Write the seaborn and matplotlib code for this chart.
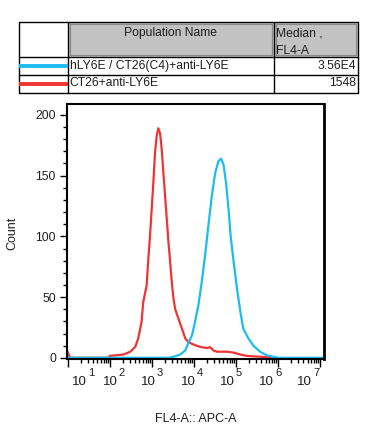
import numpy as np
import pandas as pd
import matplotlib
matplotlib.use("Agg")
import matplotlib.pyplot as plt
import seaborn as sns
from matplotlib.patches import Rectangle
from matplotlib.ticker import FixedLocator, NullFormatter

# ======================================== [ data ] ========================================
# histogram outlines (x = log10 of FL4-A intensity, y = count)
blue_log = [0.95, 3.40, 3.51, 3.67, 3.79, 3.86, 3.95, 4.02, 4.10, 4.18, 4.26, 4.34, 4.42, 4.50,
            4.58, 4.64, 4.70, 4.76, 4.82, 4.87, 4.94, 5.02, 5.10, 5.17, 5.29, 5.41, 5.57, 5.73,
            5.89, 6.00, 7.10]
blue_cnt = [0, 0, 0.8, 2.7, 6, 12, 18.5, 29.5, 43, 62, 84, 109, 133, 152,
            162, 164, 159, 144, 122, 100, 79, 57, 38, 24, 16, 10, 5, 2,
            0.8, 0, 0]

red_log = [0.976, 1.05, 1.95, 2.00, 2.32, 2.48, 2.60, 2.67, 2.75, 2.79, 2.87, 2.91, 2.95, 2.99,
           3.03, 3.07, 3.11, 3.15, 3.19, 3.23, 3.27, 3.31, 3.35, 3.39, 3.43, 3.47, 3.51, 3.55,
           3.63, 3.71, 3.79, 3.86, 3.98, 4.14, 4.30, 4.38, 4.46, 4.54, 4.78, 4.94, 5.10, 5.25,
           5.73, 5.85]
red_cnt = [6, 0, 0, 1.6, 2.7, 5, 9, 16, 29.5, 46, 59.5, 81, 100, 122,
           144, 169, 182.5, 189, 185, 171.6, 152, 133, 114, 95, 79, 62, 48.6, 40,
           32, 24, 16, 13, 11, 9, 8, 8.7, 6, 5, 5, 4.3, 2.7, 1.6,
           0.5, 0]

pop_names = ["hLY6E / CT26(C4)+anti-LY6E", "CT26+anti-LY6E"]
medians = ["3.56E4", "1548"]
pop_colors = ["#1cbcf0", "#f03434"]

y_major = [0, 50, 100, 150, 200]
x_decades = [1, 2, 3, 4, 5, 6, 7]
x_label_pos = [1.26, 2.0, 2.905, 3.857, 4.786, 5.714, 6.62]  # where FlowJo drew the "10^n" labels

# ======================================== [ plot ] ========================================
sns.set_style("ticks")
plt.rcParams['font.family'] = ['Liberation Sans', 'DejaVu Sans']
txt = '#1e1e1e'
fs = 8.7

df = pd.concat([
    pd.DataFrame({'x': 10 ** np.array(red_log), 'count': red_cnt, 'pop': pop_names[1]}),
    pd.DataFrame({'x': 10 ** np.array(blue_log), 'count': blue_cnt, 'pop': pop_names[0]}),
])

fig = plt.figure(figsize=(3.71, 4.33), dpi=100)
ax = fig.add_axes([67 / 371, 1 - 359 / 433, (324 - 67) / 371, (359 - 104) / 433])

# red first, blue on top (blue baseline covers red's zero run)
sns.lineplot(data=df, x='x', y='count', hue='pop', sort=False, estimator=None,
             palette={pop_names[0]: pop_colors[0], pop_names[1]: pop_colors[1]},
             hue_order=[pop_names[1], pop_names[0]], linewidth=1.6, legend=False, ax=ax)

ax.set_xscale('log')
ax.set_xlim(10 ** 0.976, 10 ** 7.09)
ax.set_ylim(-1, 209)

ax.yaxis.set_major_locator(FixedLocator(y_major))
ax.yaxis.set_minor_locator(FixedLocator(np.arange(0, 210, 10)))
ax.set_yticklabels([str(v) for v in y_major], fontsize=fs, color=txt)
ax.tick_params(axis='y', which='major', length=5, width=1, pad=3, color='black')
ax.tick_params(axis='y', which='minor', length=3, width=1, color='black')

ax.xaxis.set_major_locator(FixedLocator([10.0 ** d for d in x_decades]))
ax.xaxis.set_minor_locator(FixedLocator([m * 10.0 ** d for d in range(0, 8) for m in range(2, 10)]))
ax.xaxis.set_major_formatter(NullFormatter())
ax.xaxis.set_minor_formatter(NullFormatter())
ax.tick_params(axis='x', which='major', length=6, width=1, color='black')
ax.tick_params(axis='x', which='minor', length=3, width=1, color='black')

for d, p in zip(x_decades, x_label_pos):
    ax.annotate("10", xy=(10 ** p, 0), xycoords=('data', 'axes fraction'), xytext=(0, -23),
                textcoords='offset pixels', ha='center', va='center', fontsize=9.5, color=txt)
    ax.annotate(str(d), xy=(10 ** p, 0), xycoords=('data', 'axes fraction'), xytext=(12, -13.5),
                textcoords='offset pixels', ha='center', va='center', fontsize=8, color=txt)

for s in ax.spines.values():
    s.set_visible(True)
    s.set_color('black')
    s.set_linewidth(1.5)
ax.spines['right'].set_linewidth(2)
ax.set_xlabel('')
ax.set_ylabel('')

fig.text(195.5 / 371, 1 - 419 / 433, "FL4-A:: APC-A", ha='center', va='center', fontsize=9, color=txt)
fig.text(12.7 / 371, 1 - 233 / 433, "Count", ha='center', va='center', rotation=90, fontsize=9, color=txt)

# [ legend table ] ----------------------------------------------------------------
tab = fig.add_axes([19 / 371, 1 - 92.5 / 433, (358.3 - 19) / 371, (92.5 - 22.3) / 433])
W, H = 339.3, 70.2
tab.set_xlim(0, W)
tab.set_ylim(H, 0)
tab.axis('off')
c1, c2 = 48.7, 255
r1, r2 = 34.2, 52.2

for x0, x1 in [(c1, c2), (c2, W)]:
    tab.add_patch(Rectangle((x0, 0), x1 - x0, r1, facecolor='#c2c2c2', edgecolor='none'))
    tab.add_patch(Rectangle((x0 + 2, 2), x1 - x0 - 4, r1 - 4, facecolor='none',
                            edgecolor='#8a8a8a', lw=0.8))
for yy in [0, r1, r2, H]:
    tab.plot([0, W], [yy, yy], color='black', lw=1, clip_on=False)
for xx in [0, c1, c2, W]:
    tab.plot([xx, xx], [0, H], color='black', lw=1, clip_on=False)

tab.text((c1 + c2) / 2, 11, "Population Name", ha='center', va='center', fontsize=fs, color=txt)
tab.text(c2 + 2, 11, "Median ,", ha='left', va='center', fontsize=fs, color=txt)
tab.text(c2 + 2, 28.5, "FL4-A", ha='left', va='center', fontsize=fs, color=txt)

for i, (name, med, col) in enumerate(zip(pop_names, medians, pop_colors)):
    yc = [43.4, 61.2][i]
    tab.plot([0, c1], [yc, yc], color=col, lw=2.8, solid_capstyle='butt')
    tab.text(c1 + 2, yc, name, ha='left', va='center', fontsize=fs, color=txt)
    tab.text(W - 2, yc, med, ha='right', va='center', fontsize=fs, color=txt)

fig.savefig('out.png', dpi=100)
